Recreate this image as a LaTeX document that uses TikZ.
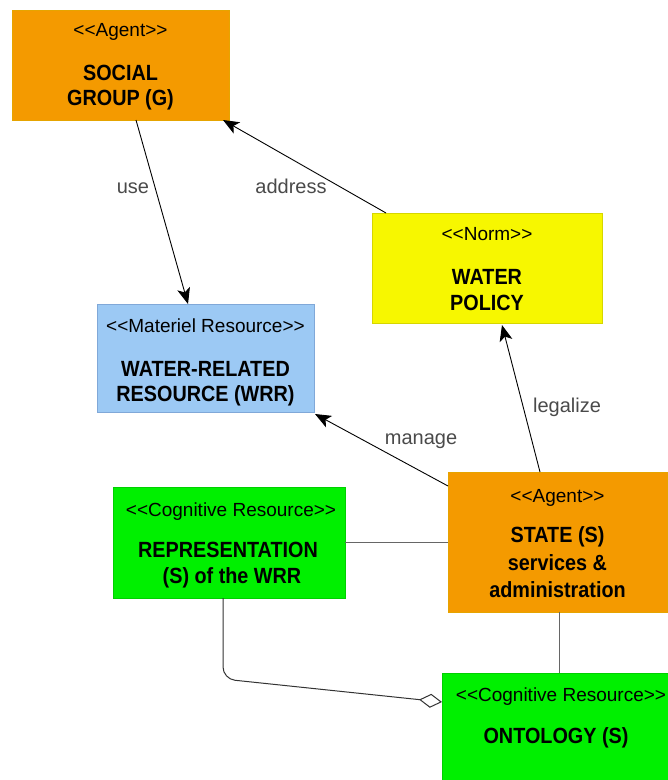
\documentclass[tikz,border=0pt]{standalone}
\usepackage{fontspec}
\setmainfont{Liberation Sans}
\newfontfamily\titlefont[FakeStretch=0.9]{Liberation Sans}
\usetikzlibrary{arrows.meta}
\definecolor{agentfill}{HTML}{F49A00}
\definecolor{agentdraw}{HTML}{E6A400}
\definecolor{normfill}{HTML}{F7F700}
\definecolor{normdraw}{HTML}{D6D600}
\definecolor{matfill}{HTML}{9CC9F4}
\definecolor{matdraw}{HTML}{80A8D8}
\definecolor{cogfill}{HTML}{00F000}
\definecolor{cogdraw}{HTML}{00D000}
\definecolor{lblgray}{HTML}{4A4A4A}
\definecolor{linegray}{HTML}{666666}
\begin{document}
\begin{tikzpicture}[x=1pt,y=-1pt,
  box/.style={draw, line width=1pt, inner sep=0pt, outer sep=0pt, rectangle},
  stereo/.style={anchor=base, inner sep=0pt, font=\fontsize{19}{19}\selectfont},
  ttl/.style={anchor=base, inner sep=0pt, font=\titlefont\bfseries\fontsize{22}{22}\selectfont},
  lbl/.style={anchor=base, inner sep=0pt, text=lblgray, font=\fontsize{20}{20}\selectfont},
  rel/.style={draw=black, line width=0.9pt, -{Stealth[length=16pt,width=13pt,inset=4pt]}},
  assoc/.style={draw=linegray, line width=1pt},
  aggr/.style={draw=black!80, line width=1pt, rounded corners=12pt, -{Diamond[length=23pt,width=14pt,fill=white]}}]
\fill[white] (0,0) rectangle (668,780);
\useasboundingbox (0,0) rectangle (668,780);

% boxes
\node[box, fill=agentfill, draw=agentdraw, minimum width=217pt, minimum height=110pt] (sg) at (120.5,65) {};
\node[stereo] (sgs) at (120.5,36) {<{}<Agent>{}>};
\node[ttl] (sgt1) at (120.5,80) {SOCIAL};
\node[ttl] (sgt2) at (120.5,105) {GROUP (G)};

\node[box, fill=normfill, draw=normdraw, minimum width=230pt, minimum height=110pt] (wp) at (487,268) {};
\node[stereo] (wps) at (487,240) {<{}<Norm>{}>};
\node[ttl] (wpt1) at (487,284) {WATER};
\node[ttl] (wpt2) at (487,310) {POLICY};

\node[box, fill=matfill, draw=matdraw, minimum width=217pt, minimum height=108pt] (wrr) at (205.5,358) {};
\node[stereo] (wrrs) at (205.5,332) {<{}<Materiel Resource>{}>};
\node[ttl] (wrrt1) at (205.5,376) {WATER-RELATED};
\node[ttl] (wrrt2) at (205.5,401) {RESOURCE (WRR)};

\node[box, fill=cogfill, draw=cogdraw, minimum width=232pt, minimum height=111pt] (rep) at (229,542.5) {};
\node[stereo] (reps) at (231,516) {<{}<Cognitive Resource>{}>};
\node[ttl] (rept1) at (228,557) {REPRESENTATION};
\node[ttl] (rept2) at (232,583) {(S) of the WRR};

\node[box, fill=agentfill, draw=agentdraw, minimum width=219pt, minimum height=140pt] (st) at (557.5,542) {};
\node[stereo] (sts) at (557.5,502) {<{}<Agent>{}>};
\node[ttl] (stt1) at (557.5,542) {STATE (S)};
\node[ttl] (stt2) at (557.5,570) {services \&};
\node[ttl] (stt3) at (557.5,597) {administration};

\node[box, fill=cogfill, draw=cogdraw, minimum width=230pt, minimum height=117pt] (on) at (557,731.5) {};
\node[stereo] (ons) at (561,701) {<{}<Cognitive Resource>{}>};
\node[ttl] (ont1) at (556,743) {ONTOLOGY (S)};

% connectors
\draw[rel] ([xshift=124pt]sg.south west) -- ([xshift=91pt]wrr.north west);
\draw[rel] ([xshift=14pt]wp.north west) -- ([xshift=-6pt]sg.south east);
\draw[rel] ([yshift=-14pt]st.north west) -- ([xshift=1pt,yshift=-2pt]wrr.south east);
\draw[rel] ([xshift=92pt]st.north west) -- ([xshift=130pt,yshift=-2pt]wp.south west);
\draw[assoc] (rep.east) -- (rep.east -| st.west);
\draw[assoc] ([xshift=1.5pt]st.south) -- ([xshift=1.5pt]st.south |- on.north);
\draw[aggr] ([xshift=110pt]rep.south west) -- ++(0,81) -- ([yshift=-29pt]on.north west);

% labels
\node[lbl] (luse) at (133,193) {use};
\node[lbl] (laddr) at (291,193) {address};
\node[lbl] (lman) at (421,444) {manage};
\node[lbl] (lleg) at (567,412) {legalize};
\end{tikzpicture}
\end{document}
